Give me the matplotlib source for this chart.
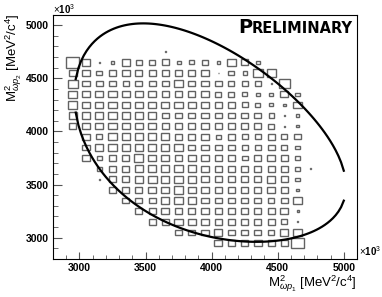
import numpy as np
import matplotlib
matplotlib.use("Agg")
import matplotlib.pyplot as plt
from matplotlib.patches import Rectangle
from matplotlib.ticker import MultipleLocator

plt.rcParams['font.family'] = ['Liberation Sans', 'DejaVu Sans']
plt.rcParams['mathtext.fontset'] = 'custom'
plt.rcParams['mathtext.rm'] = 'Liberation Sans'
plt.rcParams['mathtext.it'] = 'Liberation Sans:italic'

# bin centres (x10^3 MeV^2/c^4), bin width 100
x_centers = [2950, 3050, 3150, 3250, 3350, 3450, 3550, 3650, 3750, 3850,
             3950, 4050, 4150, 4250, 4350, 4450, 4550, 4650, 4750]
y_centers = [4750, 4650, 4550, 4450, 4350, 4250, 4150, 4050, 3950, 3850,
             3750, 3650, 3550, 3450, 3350, 3250, 3150, 3050, 2950]

# bin contents, one row per y bin (top to bottom), one entry per x bin
counts = [
    [0, 0, 0, 0, 0, 0, 0, 1, 0, 0, 0, 0, 0, 0, 0, 0, 0, 0, 0],
    [13, 8, 1, 3, 8, 6, 6, 7, 4, 5, 6, 3, 8, 7, 4, 0, 0, 0, 0],
    [8, 8, 6, 7, 8, 7, 7, 7, 7, 7, 7, 1, 6, 4, 10, 9, 0, 0, 0],
    [10, 7, 7, 7, 6, 7, 7, 7, 8, 7, 7, 7, 6, 6, 6, 1, 11, 0, 0],
    [9, 8, 8, 8, 8, 8, 8, 7, 7, 7, 8, 6, 6, 5, 4, 4, 8, 4, 0],
    [9, 8, 8, 8, 8, 8, 8, 8, 8, 8, 8, 7, 7, 6, 5, 4, 3, 8, 0],
    [8, 8, 8, 8, 8, 8, 8, 7, 7, 7, 7, 7, 7, 7, 7, 5, 1, 3, 0],
    [7, 8, 8, 8, 8, 8, 8, 7, 7, 7, 7, 7, 7, 7, 7, 6, 1, 3, 0],
    [0, 7, 6, 8, 8, 8, 8, 8, 7, 7, 7, 5, 7, 6, 6, 7, 6, 6, 0],
    [0, 7, 8, 8, 8, 8, 8, 8, 8, 7, 7, 7, 7, 6, 6, 7, 6, 4, 0],
    [0, 7, 5, 7, 7, 9, 8, 8, 7, 8, 7, 7, 7, 6, 7, 8, 7, 4, 0],
    [0, 0, 5, 7, 7, 8, 8, 8, 8, 8, 7, 7, 7, 7, 7, 7, 7, 5, 1],
    [0, 0, 1, 7, 7, 8, 9, 8, 8, 8, 7, 7, 7, 7, 7, 8, 7, 4, 0],
    [0, 0, 0, 7, 7, 7, 8, 8, 9, 8, 7, 7, 7, 7, 7, 8, 7, 3, 0],
    [0, 0, 0, 0, 7, 7, 7, 8, 8, 8, 7, 7, 7, 7, 7, 6, 7, 8, 0],
    [0, 0, 0, 0, 0, 7, 7, 8, 7, 7, 8, 7, 7, 7, 7, 7, 8, 2, 0],
    [0, 0, 0, 0, 0, 0, 7, 7, 8, 8, 8, 7, 7, 7, 7, 7, 6, 1, 0],
    [0, 0, 0, 0, 0, 0, 0, 0, 7, 7, 7, 8, 7, 7, 7, 6, 8, 8, 0],
    [0, 0, 0, 0, 0, 0, 0, 0, 0, 0, 0, 8, 7, 7, 8, 7, 7, 13, 0],
]
bin_w = 100.0

# kinematic boundary (MeV/c^2)
m_omega = 782.65
m_p = 938.27
m_parent = 3178.0
curve_x_start = 2972.0e3
curve_x_stop = 5000.0e3


def boundary(s12):
    rs = np.sqrt(s12)
    e1 = (s12 - m_p**2 + m_omega**2) / (2 * rs)
    e3 = (m_parent**2 - s12 - m_p**2) / (2 * rs)
    p1 = np.sqrt(np.clip(e1**2 - m_omega**2, 0, None))
    p3 = np.sqrt(np.clip(e3**2 - m_p**2, 0, None))
    lo = (e1 + e3)**2 - (p1 + p3)**2
    hi = (e1 + e3)**2 - (p1 - p3)**2
    return lo, hi


fig = plt.figure(figsize=(3.82, 2.97), dpi=100)
ax = fig.add_axes([53/382, 1-259/297, 304/382, 244.5/297])

cmax = max(max(r) for r in counts)
for j, yc in enumerate(y_centers):
    for i, xc in enumerate(x_centers):
        c = counts[j][i]
        if c <= 0:
            continue
        w = bin_w * c / cmax
        ax.add_patch(Rectangle((xc - w/2, yc - w/2), w, w, fill=False,
                               edgecolor='#626262', lw=1.0))

s = np.linspace(curve_x_start, curve_x_stop, 100)
lo, hi = boundary(s)
ax.plot(s/1e3, lo/1e3, color='black', lw=1.6)
ax.plot(s/1e3, hi/1e3, color='black', lw=1.6)

ax.set_xlim(2800, 5100)
ax.set_ylim(2800, 5100)
ax.xaxis.set_major_locator(MultipleLocator(500))
ax.xaxis.set_minor_locator(MultipleLocator(100))
ax.yaxis.set_major_locator(MultipleLocator(500))
ax.yaxis.set_minor_locator(MultipleLocator(100))
ax.tick_params(which='both', direction='in', top=False, right=False,
               labelsize=7.5, pad=3, color='#555555')
ax.tick_params(axis='y', which='major', length=6.5)
ax.tick_params(axis='y', which='minor', length=3.6)
ax.tick_params(axis='x', which='major', length=5)
ax.tick_params(axis='x', which='minor', length=2.6)
for lab in ax.get_xticklabels() + ax.get_yticklabels():
    lab.set_fontweight('bold')
for sp in ax.spines.values():
    sp.set_linewidth(0.8)

fig.text(53/382, 1-14/297, r'$\times$10$^{3}$', fontsize=7, fontweight='bold',
         ha='left', va='baseline')
fig.text(359/382, 1-256/297, r'$\times$10$^{3}$', fontsize=7, fontweight='bold',
         ha='left', va='baseline')

fig.text(357/382, 1-284/297, r'M$^{2}_{\omega p_{1}}$ [MeV$^{2}$/c$^{4}$]',
         fontsize=9.5, ha='right', va='center')
fig.text(14/382, 1-13/297, r'M$^{2}_{\omega p_{2}}$ [MeV$^{2}$/c$^{4}$]',
         fontsize=9.5, ha='center', va='top', rotation=90)

t = fig.text(353/382, 1-33/297, 'RELIMINARY', fontsize=10.5, fontweight='bold',
             family='DejaVu Sans', ha='right', va='baseline')
fig.canvas.draw()
bb = t.get_window_extent()
fig.text(bb.x0/382, 1-33/297, 'P', fontsize=14, fontweight='bold',
         family='DejaVu Sans', ha='right', va='baseline')

fig.savefig('out.png', dpi=100)
